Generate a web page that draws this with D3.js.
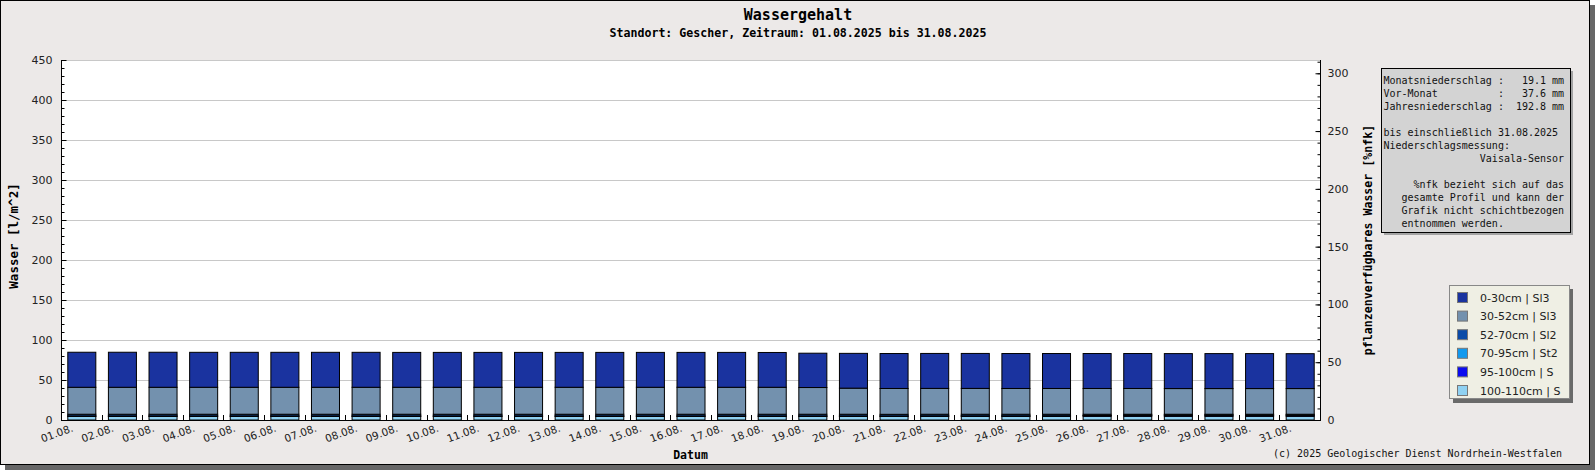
<!DOCTYPE html>
<html>
<head>
<meta charset="utf-8">
<script src="https://cdn.jsdelivr.net/npm/d3@7/dist/d3.min.js"></script>
<style>
  html, body { margin: 0; padding: 0; background: #ffffff; }
  svg { display: block; }
  text { font-family: "DejaVu Sans", sans-serif; }
  .mono { font-family: "DejaVu Sans Mono", monospace; }
</style>
</head>
<body>
<svg id="chart" width="1595" height="470"></svg>
<script>
// ---------------- DATA ----------------
const dates = ["01.08.","02.08.","03.08.","04.08.","05.08.","06.08.","07.08.","08.08.","09.08.","10.08.",
  "11.08.","12.08.","13.08.","14.08.","15.08.","16.08.","17.08.","18.08.","19.08.","20.08.",
  "21.08.","22.08.","23.08.","24.08.","25.08.","26.08.","27.08.","28.08.","29.08.","30.08.","31.08."];

const layerNames = ["100-110cm | S","95-100cm | S","70-95cm | St2","52-70cm | Sl2","30-52cm | Sl3","0-30cm | Sl3"];
const layerColors = ["#8fd1f2","#0a0af0","#1199ee","#0a4ba8","#7391ae","#1a339f"];

// water content per layer [l/m^2], bottom layer first
const w100_110 = [4.6,4.6,4.6,4.6,4.6,4.6,4.6,4.6,4.6,4.6,4.6,4.6,4.6,4.6,4.6,4.6,4.6,4.6,4.6,4.6,4.6,4.6,4.6,4.6,4.6,4.6,4.6,4.6,4.6,4.6,4.6];
const w95_100  = [0.4,0.4,0.4,0.4,0.4,0.4,0.4,0.4,0.4,0.4,0.4,0.4,0.4,0.4,0.4,0.4,0.4,0.4,0.4,0.4,0.4,0.5,0.5,0.5,0.6,0.9,1.3,1.4,1.4,1.4,1.4];
const w70_95   = [0.1,0.1,0.1,0.1,0.1,0.1,0.1,0.1,0.1,0.1,0.1,0.1,0.1,0.1,0.1,0.1,0.1,0.1,0.1,0.1,0.1,0.1,0.1,0.1,0.1,0.1,0.1,0.1,0.1,0.1,0.1];
const w52_70   = [2.1,2.1,2.1,2.1,2.1,2.1,2.1,2.1,2.1,2.1,2.1,2.1,2.1,2.1,2.1,2.1,2.1,2.1,2.1,2.1,2.0,2.0,2.0,2.0,1.9,1.6,1.2,1.1,1.1,1.1,1.1];
const w30_52   = [33.7,33.7,33.7,33.7,33.7,33.7,33.7,33.7,33.7,33.7,33.7,33.7,33.7,33.7,33.7,33.7,33.7,33.7,33.4,32.6,32.3,32.3,32.3,32.2,32.2,32.2,32.2,32.1,32.1,32.1,32.1];
const w0_30    = [43.8,43.8,43.8,43.7,43.7,43.7,43.7,43.7,43.6,43.6,43.6,43.6,43.6,43.6,43.6,43.6,43.6,43.5,42.9,43.5,43.7,43.7,43.7,43.7,43.7,43.7,43.7,43.7,43.7,43.7,43.6];

const leftTicks = [0,50,100,150,200,250,300,350,400,450];
const rightTicks = [0,50,100,150,200,250,300];

const titleText = "Wassergehalt";
const subtitleText = "Standort: Gescher, Zeitraum: 01.08.2025 bis 31.08.2025";
const yLeftLabel = "Wasser [l/m^2]";
const yRightLabel = "pflanzenverfügbares Wasser [%nfk]";
const xLabel = "Datum";
const footerText = "(c) 2025 Geologischer Dienst Nordrhein-Westfalen";
const infoLines = [
  "Monatsniederschlag :   19.1 mm",
  "Vor-Monat          :   37.6 mm",
  "Jahresniederschlag :  192.8 mm",
  "",
  "bis einschließlich 31.08.2025",
  "Niederschlagsmessung:",
  "                Vaisala-Sensor",
  "",
  "     %nfk bezieht sich auf das",
  "   gesamte Profil und kann der",
  "   Grafik nicht schichtbezogen",
  "   entnommen werden."
];

// ---------------- CHART ----------------
const svg = d3.select("#chart");
const L = 61, R = 1320, T = 60, B = 420;

// panel with shadow
svg.append("rect").attr("x",5).attr("y",5).attr("width",1590).attr("height",465).attr("fill","#676767");
svg.append("rect").attr("x",0.5).attr("y",0.5).attr("width",1589).attr("height",464)
  .attr("fill","#ece9e8").attr("stroke","#000").attr("stroke-width",1);

// plot background
svg.append("rect").attr("x",L).attr("y",T).attr("width",R-L).attr("height",B-T).attr("fill","#fff");

const x = d3.scaleBand().domain(dates).range([L,R]).paddingInner(0.31).paddingOuter(0.155);
const y = d3.scaleLinear().domain([0,450]).range([B,T]);
const y2 = d3.scaleLinear().domain([0,311.5]).range([B,T]);

// gridlines
svg.append("g").selectAll("line").data(leftTicks.filter(d=>d>0)).join("line")
  .attr("x1",L).attr("x2",R).attr("y1",d=>Math.round(y(d))+0.5).attr("y2",d=>Math.round(y(d))+0.5)
  .attr("stroke","#c8c8c8").attr("stroke-width",1);

// stacked bars
const rows = dates.map((d,i)=>({date:d, v:[w100_110[i],w95_100[i],w70_95[i],w52_70[i],w30_52[i],w0_30[i]]}));
const stack = d3.stack().keys(d3.range(6)).value((d,k)=>d.v[k]);
const series = stack(rows);
svg.append("g").selectAll("g").data(series).join("g")
  .attr("fill",(s,i)=>layerColors[i])
  .selectAll("rect").data(s=>s).join("rect")
  .attr("x",d=>x(d.data.date)+0.5)
  .attr("width",x.bandwidth())
  .attr("y",d=>y(d[1]))
  .attr("height",d=>Math.max(0,y(d[0])-y(d[1])))
  .attr("stroke","#000").attr("stroke-width",1);

// left axis
const axL = svg.append("g").attr("transform",`translate(${L+0.5},0)`)
  .call(d3.axisLeft(y).tickValues(leftTicks).tickSize(-5).tickPadding(9));
axL.select(".domain").remove();
axL.selectAll("text").attr("font-family","DejaVu Sans").attr("font-size",11).attr("fill","#222");
const axLm = svg.append("g").attr("transform",`translate(${L+0.5},0)`)
  .call(d3.axisLeft(y).tickValues(d3.range(0,451,10)).tickSize(-3).tickFormat(""));
axLm.select(".domain").remove();

// right axis
const axR = svg.append("g").attr("transform",`translate(${R+0.5},0)`)
  .call(d3.axisRight(y2).tickValues(rightTicks).tickSize(-5).tickPadding(7));
axR.select(".domain").remove();
axR.selectAll("text").attr("font-family","DejaVu Sans").attr("font-size",11).attr("fill","#222");
const axRm = svg.append("g").attr("transform",`translate(${R+0.5},0)`)
  .call(d3.axisRight(y2).tickValues(d3.range(0,311,10)).tickSize(-3).tickFormat(""));
axRm.select(".domain").remove();

// axis lines
svg.append("line").attr("x1",L+0.5).attr("x2",L+0.5).attr("y1",T).attr("y2",B+0.5).attr("stroke","#000");
svg.append("line").attr("x1",R+0.5).attr("x2",R+0.5).attr("y1",T).attr("y2",B+0.5).attr("stroke","#000");
svg.append("line").attr("x1",L).attr("x2",R+1).attr("y1",B+0.5).attr("y2",B+0.5).attr("stroke","#000");

// x ticks at band boundaries
const step = x.step();
svg.append("g").selectAll("line").data(dates.slice(1)).join("line")
  .attr("x1",d=>Math.round(x(d)-step*x.paddingInner()/2)+0.5)
  .attr("x2",d=>Math.round(x(d)-step*x.paddingInner()/2)+0.5)
  .attr("y1",B).attr("y2",B-5).attr("stroke","#000");

// x labels
svg.append("g").selectAll("text").data(dates).join("text")
  .attr("transform",d=>`translate(${x(d)+x.bandwidth()/2-7.5},${B+11}) rotate(-20)`)
  .attr("text-anchor","end").attr("font-size",10.5).attr("fill","#222")
  .text(d=>d);

// titles
svg.append("text").attr("class","mono").attr("x",798).attr("y",20).attr("text-anchor","middle")
  .attr("font-size",15).attr("font-weight","bold").text(titleText);
svg.append("text").attr("class","mono").attr("x",798).attr("y",37).attr("text-anchor","middle")
  .attr("font-size",11.6).attr("font-weight","bold").text(subtitleText);

svg.append("text").attr("class","mono").attr("transform",`translate(18,${(T+B)/2-4}) rotate(-90)`)
  .attr("text-anchor","middle").attr("font-size",12.5).attr("font-weight","bold").text(yLeftLabel);
svg.append("text").attr("class","mono").attr("transform",`translate(1372,${(T+B)/2}) rotate(-90)`)
  .attr("text-anchor","middle").attr("font-size",11.6).attr("font-weight","bold").text(yRightLabel);
svg.append("text").attr("class","mono").attr("x",(L+R)/2).attr("y",459).attr("text-anchor","middle")
  .attr("font-size",11.5).attr("font-weight","bold").text(xLabel);
svg.append("text").attr("class","mono").attr("x",1562).attr("y",457).attr("text-anchor","end")
  .attr("font-size",10).attr("fill","#111").text(footerText);

// info box
svg.append("rect").attr("x",1384).attr("y",71).attr("width",189).attr("height",164).attr("fill","#a3a3a3");
svg.append("rect").attr("x",1381.5).attr("y",68.5).attr("width",189).attr("height",164)
  .attr("fill","#d3d3d3").attr("stroke","#000");
svg.append("g").selectAll("text").data(infoLines).join("text")
  .attr("class","mono").attr("x",1383.5).attr("y",(d,i)=>83.5+i*13)
  .attr("font-size",10).attr("fill","#111").attr("xml:space","preserve").style("white-space","pre")
  .text(d=>d);

// legend
svg.append("rect").attr("x",1453).attr("y",289).attr("width",120).attr("height",114).attr("fill","#6a6a6a");
svg.append("rect").attr("x",1449.5).attr("y",285.5).attr("width",120).attr("height",113)
  .attr("fill","#efefe4").attr("stroke","#888");
const legendOrder = [5,4,3,2,1,0];
const lg = svg.append("g").selectAll("g").data(legendOrder).join("g")
  .attr("transform",(d,i)=>`translate(0,${297.5+i*18.6})`);
lg.append("rect").attr("x",1457.5).attr("y",-5).attr("width",10).attr("height",10)
  .attr("fill",d=>layerColors[d]).attr("stroke","#777");
lg.append("text").attr("x",1480).attr("y",4).attr("font-size",11).attr("fill","#222").text(d=>layerNames[d]);
</script>
</body>
</html>
